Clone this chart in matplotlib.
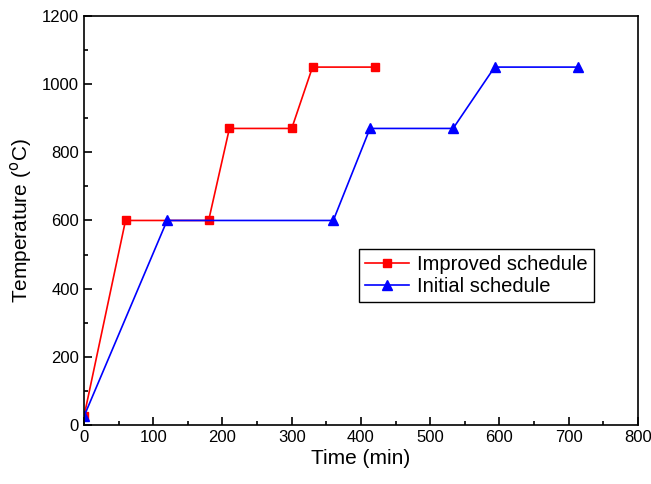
import matplotlib
matplotlib.use('Agg')
import matplotlib.pyplot as plt

plt.rcParams['font.family'] = ['Liberation Sans', 'DejaVu Sans']

# improved schedule (red squares)
improved_t = [0, 60, 180, 210, 300, 330, 420]
improved_temp = [25, 600, 600, 870, 870, 1050, 1050]

# initial schedule (blue triangles)
initial_t = [0, 120, 360, 413, 533, 593, 713]
initial_temp = [25, 600, 600, 870, 870, 1050, 1050]

fig = plt.figure(figsize=(6.51, 4.84), dpi=100)
ax = fig.add_axes([0.129, 0.122, 0.851, 0.845])

ax.plot(improved_t, improved_temp, color='red', marker='s', markersize=6,
        linewidth=1.2, label='Improved schedule')
ax.plot(initial_t, initial_temp, color='blue', marker='^', markersize=7,
        linewidth=1.2, label='Initial schedule')

ax.set_xlim(0, 800)
ax.set_ylim(0, 1200)
ax.set_xticks(range(0, 801, 100))
ax.set_yticks(range(0, 1201, 200))
ax.set_xticks(range(50, 800, 100), minor=True)
ax.set_yticks(range(100, 1200, 200), minor=True)
ax.tick_params(which='both', direction='in', labelsize=12, width=1.2)
ax.tick_params(which='major', length=6)
ax.tick_params(which='minor', length=3)
for s in ax.spines.values():
    s.set_linewidth(1.2)

ax.set_xlabel('Time (min)', fontsize=15, labelpad=3)
ax.set_ylabel('Temperature ($^{\\mathrm{o}}$C)', fontsize=15, labelpad=6)

leg = ax.legend(loc='lower left', bbox_to_anchor=(0.478, 0.275), fontsize=14.5,
                fancybox=False, edgecolor='black', framealpha=1,
                handlelength=2.2, handletextpad=0.4, borderpad=0.3,
                labelspacing=0.15)
leg.get_frame().set_linewidth(1.0)

fig.savefig('out.png', dpi=100)
